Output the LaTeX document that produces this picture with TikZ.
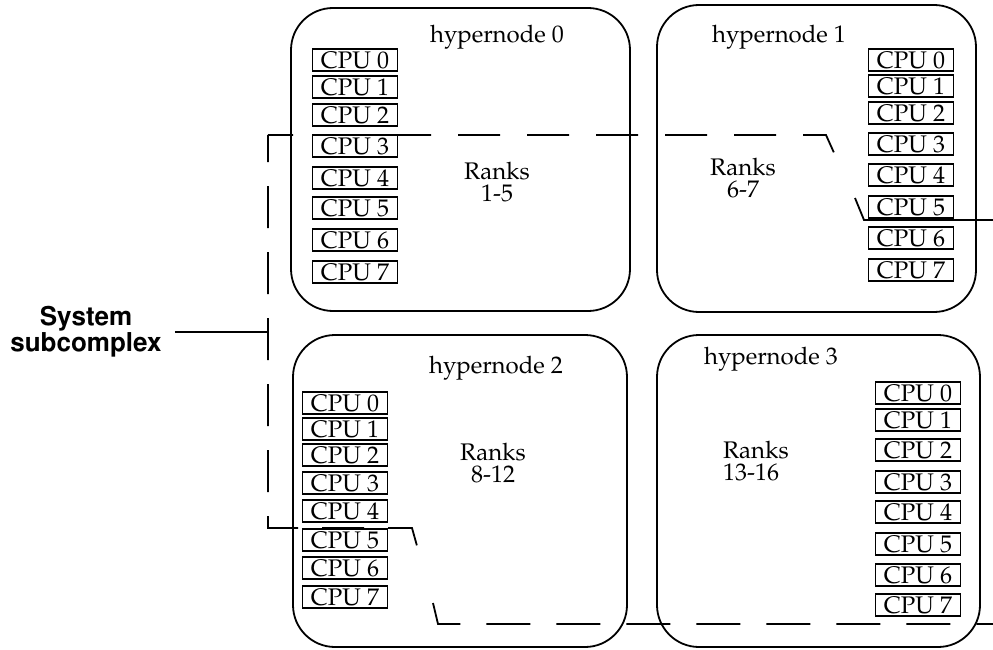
\documentclass[tikz,border=0pt]{standalone}
\usepackage[T1]{fontenc}
\usepackage{mathpazo}
\usepackage{helvet}
\newcommand\palfont{\fontsize{24}{22}\selectfont}
\newcommand\sysfont{\fontsize{26}{26}\usefont{T1}{phv}{b}{n}}
\begin{document}
\begin{tikzpicture}[x=1pt,y=-1pt,
  hyper/.style={draw, line width=1.8pt, rounded corners=42pt, inner sep=0pt},
  cpu/.style={draw, line width=1.6pt, minimum width=85pt, minimum height=22pt, inner sep=0pt, font=\palfont},
  lbl/.style={font=\palfont, inner sep=0pt},
  ranks/.style={font=\palfont, inner sep=0pt, align=center},
  subline/.style={draw, line width=1.8pt},
  sys/.style={font=\sysfont, align=center, inner sep=0pt},
  conn/.style={draw, line width=1.8pt}]
\useasboundingbox (0,0) rectangle (993,650);

% hypernode boxes
\node[hyper, minimum width=339pt, minimum height=303pt] (h0) at (460.5,159.5) {};
\node[hyper, minimum width=319pt, minimum height=307pt] (h1) at (816.5,158.5) {};
\node[hyper, minimum width=334pt, minimum height=312pt] (h2) at (460,491) {};
\node[hyper, minimum width=323pt, minimum height=312pt] (h3) at (818.5,491) {};

% titles
\node[lbl, anchor=base] (t0) at (497,43) {hypernode 0};
\node[lbl, anchor=base] (t1) at (779,43) {hypernode 1};
\node[lbl, anchor=base] (t2) at (496,373) {hypernode 2};
\node[lbl, anchor=base] (t3) at (771,364) {hypernode 3};

% CPUs
\foreach \i/\y in {0/60,1/87,2/115,3/146,4/178,5/208,6/240,7/272}
  \node[cpu] (a\i) at (355,\y) {CPU \i};
\foreach \i/\y in {0/60,1/86,2/113,3/144,4/175,5/207,6/238,7/270}
  \node[cpu] (b\i) at (911,\y) {CPU \i};
\foreach \i/\y in {0/403,1/429,2/455,3/483,4/511,5/540,6/568,7/597}
  \node[cpu] (c\i) at (345,\y) {CPU \i};
\foreach \i/\y in {0/393,1/420,2/450,3/482,4/512,5/544,6/575,7/605}
  \node[cpu] (d\i) at (918,\y) {CPU \i};

% ranks
\node[ranks] (r0) at (497,182) {Ranks\\1-5};
\node[ranks] (r1) at (743,178) {Ranks\\6-7};
\node[ranks] (r2) at (493,463) {Ranks\\8-12};
\node[ranks, align=left, anchor=west] (r3) at (723,461) {Ranks\\13-16};

% system subcomplex boundary (dashed, drawn in pieces as in the original)
\draw[subline, dash pattern=on 42pt off 27pt, dash phase=17pt]
  (268,135) -- (826,135) -- (835,155);
\draw[subline] (855,198) -- (864,220) -- (993,220);
\draw[subline, dash pattern=on 42pt off 24pt, dash phase=15pt]
  (268,135) -- (268,528) -- (412,528) -- (419,553);
\draw[subline, dash pattern=on 44pt off 26pt]
  (433,603) -- (438,624) -- (993,624);

% label and connector
\node[sys] (sys) at (86,332) {System\\subcomplex};
\coordinate (jn) at (268,332);
\draw[conn] ([xshift=13pt]sys.east) -- (jn);
\end{tikzpicture}
\end{document}
